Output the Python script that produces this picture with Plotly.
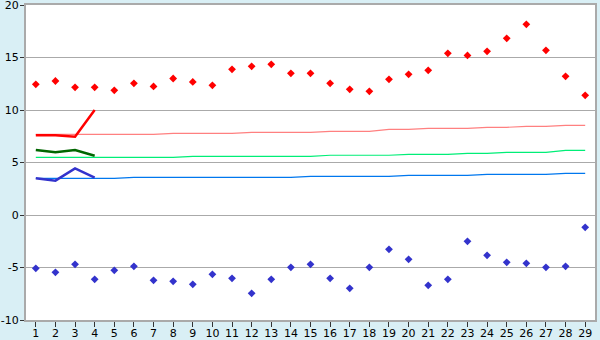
import plotly.graph_objects as go

days = list(range(1, 30))

# daily maximum (red markers)
max_vals = [12.45, 12.76, 12.16, 12.16, 11.87, 12.54, 12.25, 13.0, 12.67, 12.35,
            13.87, 14.16, 14.35, 13.49, 13.49, 12.54, 11.97, 11.78, 12.92, 13.4,
            13.78, 15.4, 15.2, 15.59, 16.83, 18.16, 15.68, 13.21, 11.4]
# daily minimum (blue markers)
min_vals = [-5.08, -5.46, -4.7, -6.13, -5.27, -4.89, -6.22, -6.32, -6.6, -5.65,
            -6.03, -7.46, -6.13, -4.98, -4.7, -6.03, -6.98, -4.98, -3.27, -4.22,
            -6.7, -6.13, -2.51, -3.84, -4.51, -4.6, -4.98, -4.89, -1.17]

# current short series (thick lines)
cur_days = [1, 2, 3, 4]
cur_red = [7.59, 7.59, 7.46, 10.0]
cur_green = [6.19, 5.97, 6.19, 5.65]
cur_blue = [3.49, 3.27, 4.44, 3.56]

# normal reference series (thin lines)
norm_red = [7.68, 7.68, 7.68, 7.68, 7.68, 7.68, 7.68, 7.78, 7.78, 7.78,
            7.78, 7.87, 7.87, 7.87, 7.87, 7.97, 7.97, 7.97, 8.16, 8.16,
            8.25, 8.25, 8.25, 8.35, 8.35, 8.44, 8.44, 8.54, 8.54]
norm_green = [5.49, 5.49, 5.49, 5.49, 5.49, 5.49, 5.49, 5.49, 5.59, 5.59,
              5.59, 5.59, 5.59, 5.59, 5.59, 5.69, 5.69, 5.69, 5.69, 5.78,
              5.78, 5.78, 5.87, 5.87, 5.97, 5.97, 5.97, 6.16, 6.16]
norm_blue = [3.49, 3.49, 3.49, 3.49, 3.49, 3.59, 3.59, 3.59, 3.59, 3.59,
             3.59, 3.59, 3.59, 3.59, 3.68, 3.68, 3.68, 3.68, 3.68, 3.78,
             3.78, 3.78, 3.78, 3.87, 3.87, 3.87, 3.87, 3.97, 3.97]

y_ticks = [-10, -5, 0, 5, 10, 15, 20]
y_tick_labels = ["-10", "-5", "0", "5", "10", "15", "20"]

fig = go.Figure()
fig.add_trace(go.Scatter(x=days, y=norm_red, mode="lines", line=dict(color="#FF8080", width=1.2)))
fig.add_trace(go.Scatter(x=days, y=norm_green, mode="lines", line=dict(color="#00EE77", width=1.2)))
fig.add_trace(go.Scatter(x=days, y=norm_blue, mode="lines", line=dict(color="#0077EE", width=1.2)))
fig.add_trace(go.Scatter(x=cur_days, y=cur_red, mode="lines", line=dict(color="#FF0000", width=2.5)))
fig.add_trace(go.Scatter(x=cur_days, y=cur_green, mode="lines", line=dict(color="#006600", width=2.5)))
fig.add_trace(go.Scatter(x=cur_days, y=cur_blue, mode="lines", line=dict(color="#3333CC", width=2.5)))
fig.add_trace(go.Scatter(x=days, y=max_vals, mode="markers",
                         marker=dict(symbol="diamond", size=6, color="#FF0000")))
fig.add_trace(go.Scatter(x=days, y=min_vals, mode="markers",
                         marker=dict(symbol="diamond", size=6, color="#3333CC")))

fig.update_layout(
    width=600, height=340,
    margin=dict(l=26, r=5, t=5, b=20),
    paper_bgcolor="#D9EFF5",
    plot_bgcolor="#FFFFFF",
    showlegend=False,
    font=dict(family="DejaVu Sans", size=11, color="#000000"),
)
fig.update_xaxes(
    range=[0.5, 29.5], tickmode="array", tickvals=days, ticktext=[str(d) for d in days],
    showgrid=False, zeroline=False, showline=True, mirror=True, linecolor="#AAAAAA", linewidth=2,
    ticks="outside", ticklen=5, tickcolor="#333333", tickwidth=1, automargin=False,
    ticklabelstandoff=-3, ticklabeloverflow="allow",
)
fig.update_yaxes(
    range=[-10, 20], tickmode="array", tickvals=y_ticks, ticktext=y_tick_labels,
    showgrid=True, gridcolor="#AAAAAA", gridwidth=1, zeroline=False,
    showline=True, mirror=True, linecolor="#AAAAAA", linewidth=2,
    ticks="outside", ticklen=4, tickcolor="#333333", tickwidth=1, automargin=False,
    ticklabeloverflow="allow", ticklabelstandoff=-1,
)

fig.write_html("out.html")
